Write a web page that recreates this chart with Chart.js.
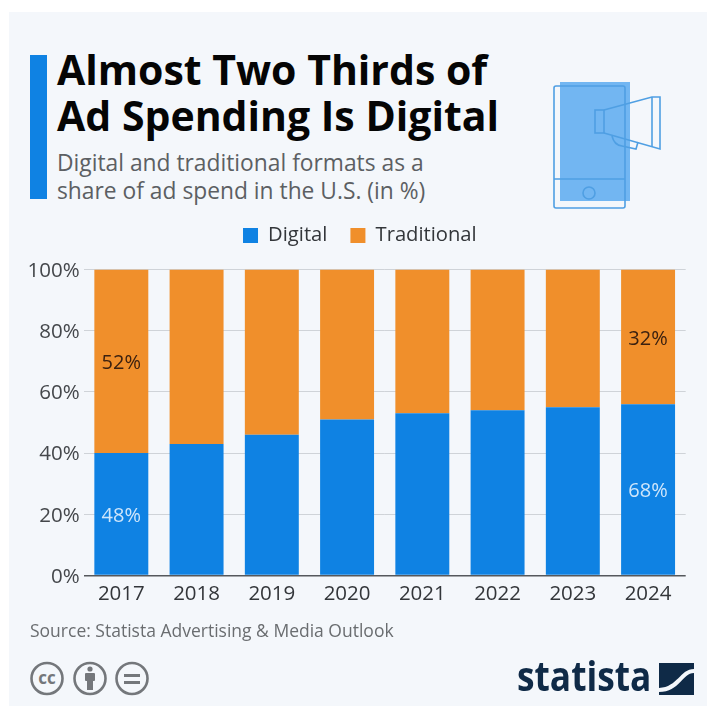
<!DOCTYPE html>
<html>
<head>
<meta charset="utf-8">
<title>Almost Two Thirds of Ad Spending Is Digital</title>
<script src="https://cdn.jsdelivr.net/npm/chart.js@4"></script>
<style>
	html, body { margin: 0; padding: 0; background: #fff; }
	#page { position: relative; width: 707px; height: 708px; overflow: hidden; font-family: "Open Sans", sans-serif; }
	#panel { position: absolute; left: 9px; top: 12px; right: 0; height: 694px; background: #f4f7fb; }
	#bpChart { position: absolute; left: 0; top: 0; }
	.abs { position: absolute; white-space: nowrap; }
	#accent { left: 30px; top: 55px; width: 17px; height: 144px; background: #0f82e3; }
	.title { left: 57px; font-size: 41px; font-weight: 700; color: #050505; line-height: 46px; }
	.sub { left: 57px; font-size: 22.8px; color: #5c5f63; line-height: 28px; }
	#source { left: 30px; top: 619px; font-size: 17.5px; color: #6a6d70; line-height: 22px; }
	#brand { left: 517px; top: 650px; font-size: 42px; font-weight: 700; color: #0f2a47; line-height: 50px; transform-origin: left top; transform: scaleX(.84); }
	svg { position: absolute; left: 0; top: 0; }
</style>
</head>
<body>
<div id="page">
	<div id="panel"></div>
	<div class="abs" id="accent"></div>
	<div class="abs title" style="top:46px">Almost Two Thirds of</div>
	<div class="abs title" style="top:92px">Ad Spending Is Digital</div>
	<div class="abs sub" style="top:149px">Digital and traditional formats as a</div>
	<div class="abs sub" style="top:177px">share of ad spend in the U.S. (in %)</div>

	<!-- phone + megaphone, cc icons, statista mark -->
	<svg width="707" height="708" fill="none">
		<rect x="560" y="82" width="70" height="119" fill="#72b6f2"/>
		<g stroke="#4f9fe3" stroke-width="1.6">
			<rect x="554" y="86" width="71" height="122" rx="2"/>
			<line x1="554" y1="179" x2="625" y2="179"/>
			<circle cx="589" cy="193" r="6"/>
			<rect x="595" y="110" width="9" height="23"/>
			<path d="M604 110 L652 97 L660 97 L660 149 L604 133"/>
			<line x1="652" y1="97" x2="652" y2="147"/>
			<path d="M612 136 Q614 145 622 146 L636 149 L638 142"/>
		</g>
		<g stroke="#74777b" stroke-width="2.6">
			<circle cx="47" cy="678.5" r="15.5"/>
			<circle cx="90" cy="678.5" r="15.5"/>
			<circle cx="132" cy="678.5" r="15.5"/>
		</g>
		<g fill="#74777b">
			<circle cx="90" cy="669" r="2.6"/>
			<rect x="85" y="673" width="10" height="8" rx="1"/>
			<rect x="87" y="680" width="6" height="10"/>
			<rect x="124" y="674" width="16" height="3"/>
			<rect x="124" y="681" width="16" height="3"/>
		</g>
		<text x="47" y="684" text-anchor="middle" font-family="Open Sans" font-size="17" font-weight="700" fill="#74777b">cc</text>
		<path d="M659 663 H694 V669 C680 669 678 687 659 688 Z" fill="#0f2a47"/>
		<path d="M694 673 V695 H659 V692 C680 692 682 673 694 673 Z" fill="#0f2a47"/>
	</svg>

	<canvas id="bpChart" width="707" height="708"></canvas>
	<div class="abs" id="source">Source: Statista Advertising &amp; Media Outlook</div>
	<div class="abs" id="brand">statista</div>
</div>

<script>
	// values
	const years = ["2017", "2018", "2019", "2020", "2021", "2022", "2023", "2024"];
	const digital = [40, 43, 46, 51, 53, 54, 55, 56];
	const traditional = [60, 57, 54, 49, 47, 46, 45, 44];
	// the printed labels, only first and last bar have them
	const digitalLabels = ["48%", "", "", "", "", "", "", "68%"];
	const traditionalLabels = ["52%", "", "", "", "", "", "", "32%"];
	const yTicks = [0, 20, 40, 60, 80, 100];

	const fontFamily = '"Open Sans", sans-serif';

	// legend tweaks and the few labels inside the bars
	const barLabels = {
		id: "barLabels",
		beforeInit: function(chart) {
			// keeps the gap between legend and plot
			let fit = chart.legend.fit;
			chart.legend.fit = function() {
				fit.bind(chart.legend)();
				this.height = 67;
			};
		},
		afterLayout: function(chart) {
			// legend sits a bit right of the plot centre
			chart.legend.left += 7;
			chart.legend.right += 7;
		},
		afterDatasetsDraw: function(chart) {
			let ctx = chart.ctx;
			ctx.save();
			ctx.font = "20px " + fontFamily;
			ctx.textAlign = "center";
			ctx.textBaseline = "middle";
			chart.data.datasets.forEach(function(ds, d) {
				chart.getDatasetMeta(d).data.forEach(function(bar, i) {
					if (!ds.printed[i]) return;
					ctx.fillStyle = ds.printedColor;
					ctx.fillText(ds.printed[i], bar.x, (bar.y + bar.base) / 2 + 2);
				});
			});
			ctx.restore();
		}
	};

	let ctx = document.getElementById("bpChart").getContext("2d");
	let chart = new Chart(ctx, {
		type: "bar",
		data: {
			labels: years,
			datasets: [{
				label: "Digital",
				data: digital,
				backgroundColor: "#0f82e3",
				printed: digitalLabels,
				printedColor: "#cfe6fb"
			}, {
				label: "Traditional",
				data: traditional,
				backgroundColor: "#f08f2b",
				printed: traditionalLabels,
				printedColor: "#3b2110"
			}]
		},
		plugins: [barLabels],
		options: {
			responsive: false,
			animation: false,
			barPercentage: 0.717,
			categoryPercentage: 1,
			layout: { padding: { left: 20, right: 21.3, top: 202.5, bottom: 87.5 } },
			plugins: {
				tooltip: { enabled: false },
				legend: {
					position: "top",
					labels: {
						color: "#33363a",
						font: { family: fontFamily, size: 20.2 },
						boxWidth: 15,
						boxHeight: 15,
						padding: 23
					}
				}
			},
			scales: {
				x: {
					stacked: true,
					afterFit: function(scale) { scale.height = 45; },
					grid: { display: false, drawTicks: false },
					border: { display: false },
					ticks: { color: "#33363a", font: { family: fontFamily, size: 20.5 }, padding: 6, maxRotation: 0 }
				},
				y: {
					stacked: true,
					min: 0,
					max: 100,
					afterFit: function(scale) { scale.width = 63.7; },
					afterBuildTicks: function(scale) { scale.ticks = yTicks.map(function(v) { return { value: v }; }); },
					grid: {
						drawTicks: false,
						color: function(c) { return c.tick.value === 0 ? "#55585c" : "#cfd3d8"; },
						lineWidth: function(c) { return c.tick.value === 0 ? 1.5 : 1; }
					},
					border: { display: false },
					ticks: {
						color: "#44474b",
						font: { family: fontFamily, size: 20.5 },
						padding: 4,
						labelOffset: 1.5,
						callback: function(v) { return v + "%"; }
					}
				}
			}
		}
	});
</script>
</body>
</html>
